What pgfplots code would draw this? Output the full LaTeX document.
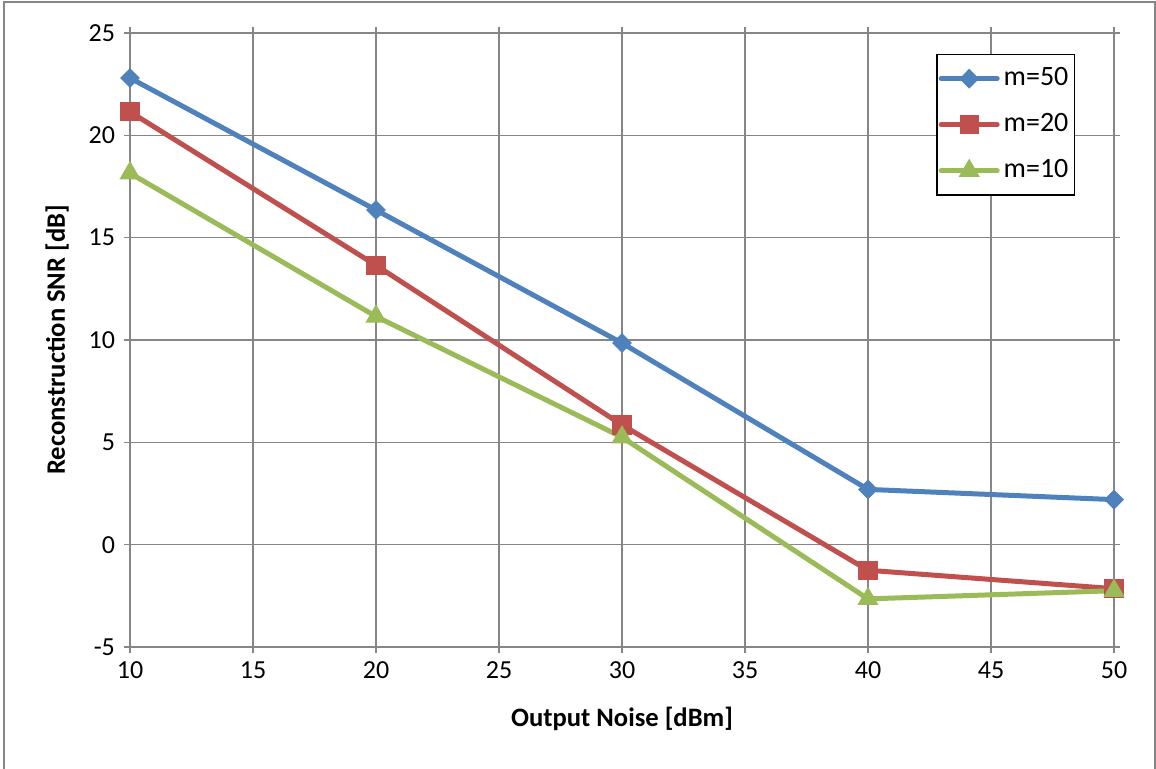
\documentclass[border=0pt]{standalone}
\usepackage{pgfplots}
\pgfplotsset{compat=1.18}
\usepackage{fontspec}
\setmainfont{Carlito}
\definecolor{cblue}{HTML}{4F81BD}
\definecolor{cred}{HTML}{C0504D}
\definecolor{cgreen}{HTML}{9BBB59}
\definecolor{cgrid}{HTML}{868686}
\begin{document}
\fontsize{13}{15}\selectfont
\begin{tikzpicture}
\useasboundingbox (-65pt,-61pt) rectangle (513pt,323.5pt);
\draw[cgrid, line width=0.6pt] (-63pt,-70pt) -- (-63pt,322.5pt) -- (512.5pt,322.5pt) -- (512.5pt,-70pt);
\begin{axis}[
  at={(0,0)}, anchor=south west,
  scale only axis, width=492pt, height=307pt,
  xmin=10, xmax=50, ymin=-5, ymax=25,
  xtick={10,15,...,50}, ytick={-5,0,...,25},
  grid=major, major grid style={cgrid, line width=0.6pt},
  axis line style={cgrid, line width=0.6pt},
  tick style={cgrid, line width=0.6pt},
  tick align=outside, major tick length=3pt,
  /pgf/number format/assume math mode=true,
  ticklabel style={font=\fontsize{13}{15}\selectfont},
  xlabel={\textbf{Output Noise [dBm]}},
  ylabel={\textbf{Reconstruction SNR [dB]}},
  label style={font=\fontsize{13.3}{15}\selectfont},
  xlabel style={yshift=-5pt},
  ylabel style={yshift=1pt},
  legend style={at={(0.819,0.966)}, anchor=north west, draw=black, line width=0.8pt,
    font=\fontsize{14}{16}\selectfont, row sep=8pt, inner xsep=1pt, inner ysep=4.5pt,
    cells={anchor=west}},
  legend image code/.code={
    \draw[#1, line width=2.5pt, line cap=round] (0pt,0pt) -- (28pt,0pt);
    \draw[#1, line width=0.5pt] plot coordinates {(14pt,0pt)};
  },
  every axis plot/.append style={line width=2.5pt},
]
\addplot[cblue, mark=diamond*, mark size=4.6pt, mark options={fill=cblue, line width=0.5pt, xscale=1.33}] coordinates {(10,22.8) (20,16.35) (30,9.85) (40,2.7) (50,2.2)};
\addlegendentry{m=50}
\addplot[cred, mark=square*, mark size=4.6pt, mark options={fill=cred, line width=0.5pt}] coordinates {(10,21.15) (20,13.65) (30,5.85) (40,-1.25) (50,-2.15)};
\addlegendentry{m=20}
\addplot[cgreen, mark=triangle*, mark size=5.6pt, mark options={fill=cgreen, line width=0.5pt}] coordinates {(10,18.15) (20,11.15) (30,5.25) (40,-2.65) (50,-2.25)};
\addlegendentry{m=10}
\end{axis}
\end{tikzpicture}
\end{document}
